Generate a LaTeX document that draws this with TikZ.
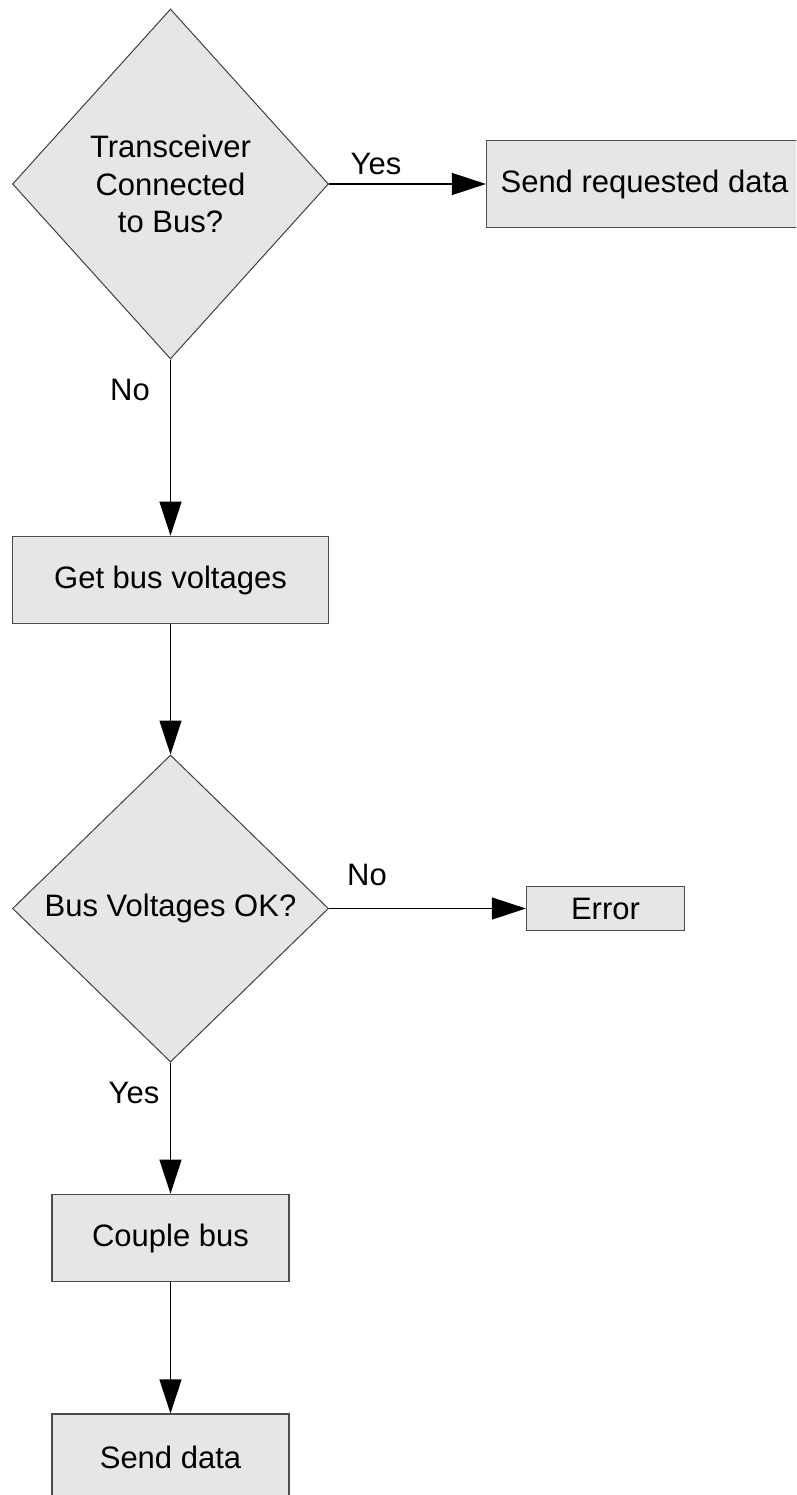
\documentclass[tikz,border=0pt]{standalone}
\usepackage{fontspec}
\setmainfont{Liberation Sans}
\usetikzlibrary{shapes.geometric,arrows.meta}
\definecolor{boxgray}{HTML}{E6E6E6}
\begin{document}
\begin{tikzpicture}[x=1pt,y=-1pt,
  every node/.style={font=\fontsize{31}{37.5}\selectfont, text=black},
  decision/.style={diamond, draw=black!75, fill=boxgray, line width=1pt,
    inner sep=0pt, minimum width=316pt, align=center},
  process/.style={rectangle, draw=black!70, fill=boxgray, line width=1.2pt,
    inner sep=0pt},
  flow/.style={draw=black, line width=1.2pt,
    -{Triangle[length=34pt,width=22pt]}},
  tag/.style={inner sep=0pt}]
\useasboundingbox (0,0) rectangle (796,1495);
\clip (0,0) rectangle (796,1495);

% decisions
\node[decision, minimum height=350pt, aspect=0.9] (conn) at (170.5,184)
  {Transceiver\\Connected\\to Bus?};
\node[decision, minimum height=307pt, aspect=1.03] (vok) at (170.5,908.5)
  {Bus Voltages OK?};

% process steps
\node[process, minimum width=316pt, minimum height=87pt] (sendreq) at (644.5,184) {Send requested data};
\node[process, minimum width=316pt, minimum height=87.5pt] (getv) at (170.5,580) {Get bus voltages};
\node[process, minimum width=158pt, minimum height=43.5pt] (err) at (605.5,908.5) {Error};
\node[process, minimum width=237pt, minimum height=87.5pt] (couple) at (170.5,1238) {Couple bus};
\node[process, minimum width=237pt, minimum height=87.5pt] (senddata) at (170.5,1457.75) {Send data};

% connectors
\draw[flow] (conn.east) -- (sendreq.west);
\draw[flow] (conn.south) -- (getv.north);
\draw[flow] (getv.south) -- (vok.north);
\draw[flow] (vok.east) -- (err.west);
\draw[flow] (vok.south) -- (couple.north);
\draw[flow] (couple.south) -- (senddata.north);

% branch labels
\node[tag] (yes1) at (376,164) {Yes};
\node[tag] (no1) at (130,390) {No};
\node[tag] (no2) at (367,874.5) {No};
\node[tag] (yes2) at (134,1093) {Yes};
\end{tikzpicture}
\end{document}
